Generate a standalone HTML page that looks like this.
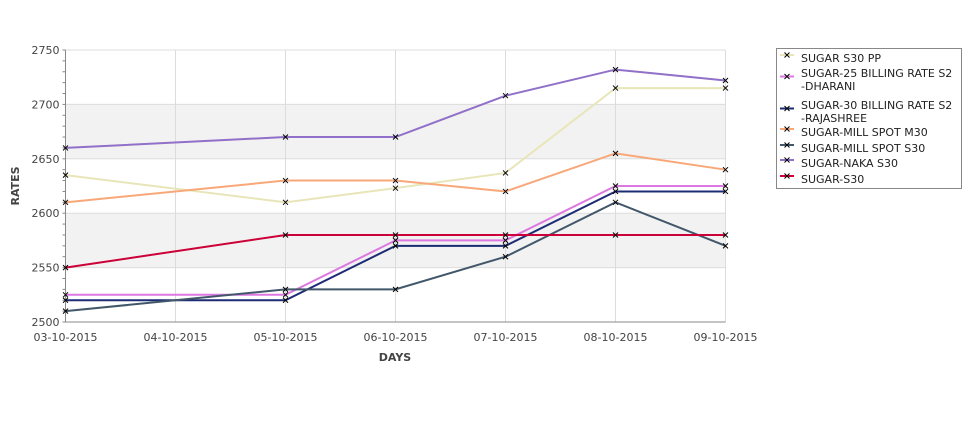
<!DOCTYPE html>
<html><head><meta charset="utf-8"><style>
body{margin:0;background:#fff;font-family:"Liberation Sans","DejaVu Sans",sans-serif}
svg text{font-family:"DejaVu Sans","Liberation Sans",sans-serif}
</style></head><body>
<svg id="c" width="975" height="429" xmlns="http://www.w3.org/2000/svg"></svg>
<script>
const categories=["03-10-2015","04-10-2015","05-10-2015","06-10-2015","07-10-2015","08-10-2015","09-10-2015"];
const yTicks=[2500,2550,2600,2650,2700,2750];
const seriesNames=["SUGAR S30 PP","SUGAR-25 BILLING RATE S2 -DHARANI","SUGAR-30 BILLING RATE S2 -RAJASHREE","SUGAR-MILL SPOT M30","SUGAR-MILL SPOT S30","SUGAR-NAKA S30","SUGAR-S30"];
const seriesColors=["#e8e6b8","#dc78e0","#1c2c74","#f8a878","#42586a","#9070c8","#cc0038"];
const sPP=[2635,null,2610,2623,2637,2715,2715];
const sDharani=[2525,null,2525,2575,2575,2625,2625];
const sRajashree=[2520,null,2520,2570,2570,2620,2620];
const sM30=[2610,null,2630,2630,2620,2655,2640];
const sSpotS30=[2510,null,2530,2530,2560,2610,2570];
const sNaka=[2660,null,2670,2670,2708,2732,2722];
const sS30=[2550,null,2580,2580,2580,2580,2580];
const seriesValues=[sPP,sDharani,sRajashree,sM30,sSpotS30,sNaka,sS30];

const svg=document.getElementById('c');const NS="http://www.w3.org/2000/svg";
const L=65.5,R=725.5,T=50,B=322,yMin=2500,yMax=2750;
const xs=i=>L+(R-L)*i/(categories.length-1);
const ys=v=>B-(B-T)*(v-yMin)/(yMax-yMin);
function mk(t,a,p){const e=document.createElementNS(NS,t);for(const k in a)e.setAttribute(k,a[k]);(p||svg).appendChild(e);return e;}
// bands
for(let i=0;i<yTicks.length-1;i++){if(i%2==1){const r=mk('rect',{x:L,y:ys(yTicks[i+1]),width:R-L,height:ys(yTicks[i])-ys(yTicks[i+1]),fill:'#f2f2f2'});

}}
yTicks.forEach(v=>{const l=mk('line',{x1:L,x2:R,y1:ys(v),y2:ys(v),stroke:'#dcdcdc'});


const t=mk('text',{x:L-6,y:ys(v)+4,'text-anchor':'end','font-size':11,fill:'#444'});t.textContent=v;

});
for(let v=yMin;v<=yMax;v+=10){mk('line',{x1:L-3,x2:L,y1:ys(v),y2:ys(v),stroke:'#888'});}
categories.forEach((c,i)=>{const l=mk('line',{x1:xs(i),x2:xs(i),y1:T,y2:B,stroke:'#dcdcdc'});


const t=mk('text',{x:xs(i),y:B+19,'text-anchor':'middle','font-size':11,fill:'#444'});t.textContent=c;

});
mk('line',{x1:L,x2:L,y1:T,y2:B,stroke:'#888'});mk('line',{x1:L,x2:R,y1:B,y2:B,stroke:'#888'});
let t=mk('text',{x:19,y:186,'text-anchor':'middle','font-size':11,'font-weight':'bold',fill:'#444',transform:'rotate(-90 19 186)'});t.textContent="RATES";


t=mk('text',{x:395,y:361,'text-anchor':'middle','font-size':11,'font-weight':'bold',fill:'#444'});t.textContent="DAYS";


function cross(x,y,g){const p=mk('path',{d:`M${x-2.5} ${y-2.5}L${x+2.5} ${y+2.5}M${x-2.5} ${y+2.5}L${x+2.5} ${y-2.5}`,stroke:'#000','stroke-width':1},g);return p;}
seriesValues.forEach((vals,si)=>{const g=mk('g',{});


const pts=[];vals.forEach((v,i)=>{if(v!==null)pts.push([xs(i),ys(v)]);});
const pl=mk('polyline',{points:pts.map(p=>p.join(',')).join(' '),fill:'none',stroke:seriesColors[si],'stroke-width':2},g);


pts.forEach(p=>{const m=cross(p[0],p[1],g);

});});
// legend
const lg=mk('g',{});


mk('rect',{x:776.5,y:48.5,width:185,height:140,fill:'#fff',stroke:'#888'},lg);
const ly=[59,74,87,101,114,130,146,162,178];
const rows=[[59],[74,87],[106,119],[133],[149],[164],[180]];
seriesNames.forEach((n,i)=>{const r=rows[i];const cy=(r[0]+r[r.length-1])/2-4;
const e=mk('g',{},lg);


mk('line',{x1:780,x2:794,y1:cy,y2:cy,stroke:seriesColors[i],'stroke-width':2},e);cross(787,cy,e);
const parts=n.indexOf(' -')>0?[n.slice(0,n.indexOf(' -')),n.slice(n.indexOf(' -')+1)]:[n];
parts.forEach((p,k)=>{const tt=mk('text',{x:801,y:r[k]+3,'font-size':11,fill:'#222'},e);tt.textContent=p;});});
</script>
</body></html>
